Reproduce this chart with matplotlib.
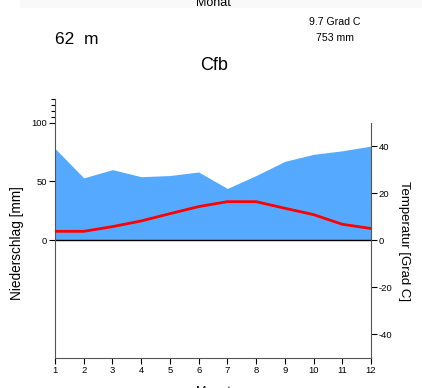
import matplotlib.pyplot as plt
import matplotlib.patches as mpatches

months = [1, 2, 3, 4, 5, 6, 7, 8, 9, 10, 11, 12]
precip = [78, 53, 60, 54, 55, 58, 44, 55, 67, 73, 76, 80]
temp = [3.8, 3.8, 5.8, 8.2, 11.3, 14.3, 16.4, 16.4, 13.6, 10.9, 6.8, 5.0]
left_ticks = [0, 50, 100]
left_minor = [105, 110, 115, 120]
right_ticks = [-40, -20, 0, 20, 40]

plt.rcParams['font.family'] = ['Liberation Sans', 'DejaVu Sans']
plt.rcParams['axes.unicode_minus'] = False

fig = plt.figure(figsize=(4.22, 3.88), dpi=100)
W, H = 422, 388
ax = fig.add_axes([55 / W, 1 - 358 / H, (371 - 55) / W, (358 - 99) / H])
ax2 = ax.twinx()

# precipitation area (left scale) and temperature line (right scale)
ax.fill_between(months, precip, 0, color='#55aaff', lw=0, zorder=1)
ax.axhline(0, color='black', lw=1, zorder=2)
ax.set_ylim(-100, 120)
ax.set_xlim(1, 12)
ax2.set_ylim(-50, 60)
ax2.plot(months, temp, color='#ff0000', lw=2, zorder=3)

ax.set_yticks(left_ticks)
ax.set_yticks(left_minor, minor=True)
ax.set_xticks(months)
ax2.set_yticks(right_ticks)
ax.tick_params(axis='both', labelsize=6.8, length=4, width=0.8, pad=1.5, colors='black')
ax.tick_params(axis='y', which='minor', length=3, width=0.8)
ax2.tick_params(axis='y', labelsize=6.8, length=4, width=0.8, pad=1.5)

for a in (ax, ax2):
    for s in a.spines.values():
        s.set_visible(False)
ax.spines['left'].set_visible(True)
ax.spines['left'].set_bounds(-100, 120)
ax.spines['left'].set_color('#555555')
ax.spines['bottom'].set_visible(True)
ax.spines['bottom'].set_color('#555555')
ax2.spines['right'].set_visible(True)
ax2.spines['right'].set_bounds(-50, 50)
ax2.spines['right'].set_color('#555555')

ax.set_ylabel('Niederschlag [mm]', fontsize=9.8)
ax.yaxis.set_label_coords(-0.098, (358 - 243) / (358 - 99))
ax2.set_ylabel('Temperatur [Grad C]', fontsize=9.5, rotation=-90, va='bottom')
ax2.yaxis.set_label_coords(1.085, (358 - 241) / (358 - 99))
ax.set_xlabel('Monat', fontsize=9)
ax.xaxis.set_label_coords(0.5, -0.11)

# faint band at the top with the cut-off label
fig.patches.append(mpatches.Rectangle((20 / W, 1 - 8 / H), 402 / W, 8 / H,
                                      transform=fig.transFigure, color='#f9f9f9', lw=0))
fig.text(213 / W, 1 - 3 / H, 'Monat', fontsize=9, ha='center', va='center')
fig.text(55 / W, 1 - 40 / H, '62  m', fontsize=12.5, ha='left', va='center')
fig.text(214 / W, 1 - 65 / H, 'Cfb', fontsize=13, ha='center', va='center')
fig.text(335 / W, 1 - 22 / H, '9.7 Grad C', fontsize=7.6, ha='center', va='center')
fig.text(335 / W, 1 - 38 / H, '753 mm', fontsize=7.6, ha='center', va='center')

fig.savefig('out.png', dpi=100)
